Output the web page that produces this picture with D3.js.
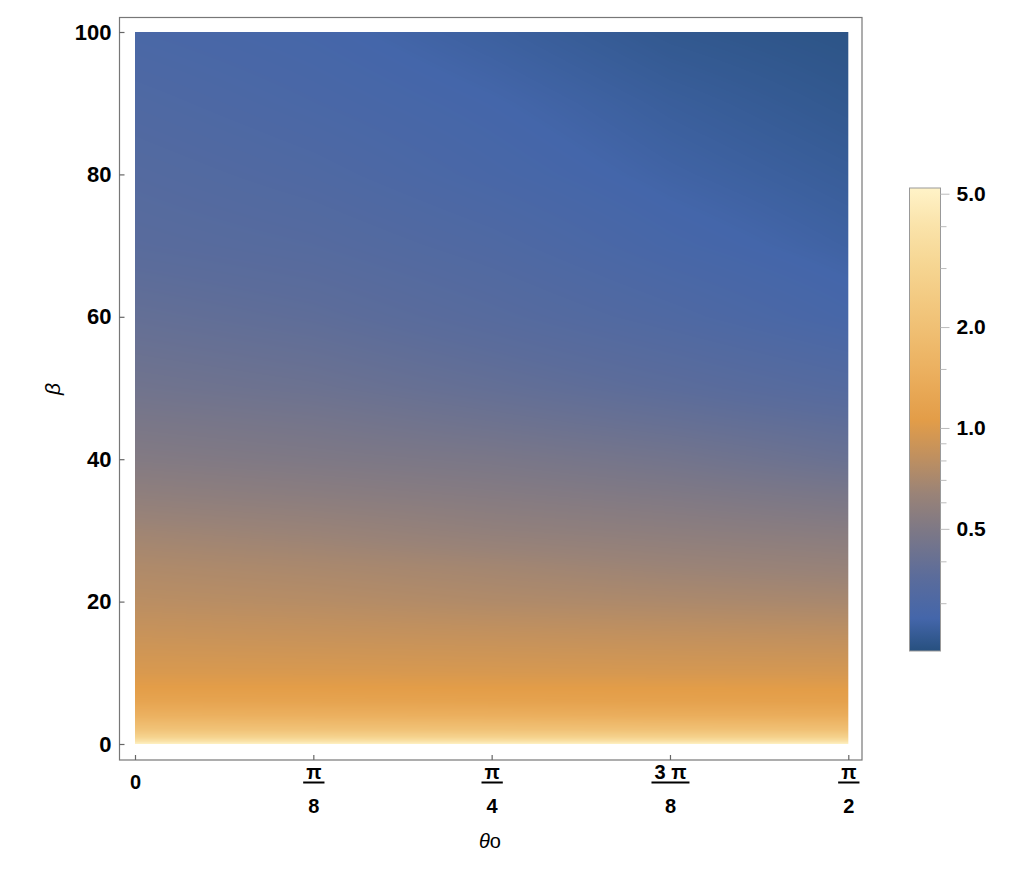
<!DOCTYPE html>
<html>
<head>
<meta charset="utf-8">
<script src="https://cdn.jsdelivr.net/npm/d3@7"></script>
<style>
    body { margin: 0; background: #fff; }
    text { font-family: "Liberation Sans", Arial, sans-serif; }
</style>
</head>
<body>
<div id="chart"></div>
<script>

// beta rows and theta columns of the sampled field
const betaValues = [0, 0.5, 1, 2, 4, 6, 8, 10, 15, 20, 25, 30, 35, 40, 45, 50, 60, 70, 80, 90, 100];
const thetaValues = [0, Math.PI / 8, Math.PI / 4, 3 * Math.PI / 8, Math.PI / 2];

// value along beta for each theta column
const valuesTheta0    = [5.0, 3.7, 2.9, 2.13, 1.5, 1.2, 1.06, 0.985, 0.88, 0.79, 0.73, 0.66, 0.58, 0.52, 0.48, 0.44, 0.39, 0.35, 0.33, 0.31, 0.29];
const valuesThetaPi8  = [5.0, 3.7, 2.9, 2.10, 1.48, 1.19, 1.06, 0.98, 0.865, 0.77, 0.705, 0.63, 0.555, 0.50, 0.46, 0.42, 0.37, 0.335, 0.31, 0.29, 0.275];
const valuesThetaPi4  = [5.0, 3.65, 2.85, 2.08, 1.46, 1.17, 1.05, 0.97, 0.85, 0.74, 0.675, 0.59, 0.53, 0.48, 0.43, 0.39, 0.34, 0.31, 0.285, 0.271, 0.255];
const valuesTheta3Pi8 = [5.0, 3.6, 2.8, 2.05, 1.42, 1.15, 1.05, 0.96, 0.835, 0.72, 0.64, 0.565, 0.505, 0.45, 0.40, 0.36, 0.31, 0.28, 0.263, 0.25, 0.235];
const valuesThetaPi2  = [5.0, 3.6, 2.8, 2.02, 1.40, 1.14, 1.04, 0.955, 0.82, 0.70, 0.615, 0.54, 0.475, 0.41, 0.37, 0.33, 0.28, 0.26, 0.247, 0.235, 0.225];
const columns = [valuesTheta0, valuesThetaPi8, valuesThetaPi4, valuesTheta3Pi8, valuesThetaPi2];

// ticks
const yTicks = [0, 20, 40, 60, 80, 100];
const xTickNumerators = ["0", "π", "π", "3 π", "π"];
const xTickDenominators = ["", "8", "4", "8", "2"];
const legendTicks = [0.5, 1, 2, 5];
const legendTickLabels = ["0.5", "1.0", "2.0", "5.0"];
const legendMinorTicks = [0.3, 0.4, 0.6, 0.7, 0.8, 0.9, 1.5, 3, 4];
const colorDomain = [0.216, 5.2];

// colour gradient
const gradientStops  = [0, 0.07, 0.16, 0.26, 0.34, 0.42, 0.50, 0.60, 0.70, 0.83, 0.92, 1];
const gradientColors = ["#27507f", "#4466aa", "#5b6c9b", "#7d7886", "#9a8377", "#c0905f",
                        "#e39d48", "#ebaf5e", "#f0c074", "#f6d591", "#fae3aa", "#fff3c8"];

const width = 1030, height = 870;
const frame = {left: 119.5, top: 17.5, right: 862, bottom: 760};

const xScale = d3.scaleLinear().domain([0, Math.PI / 2]).range([135, 848.3]);
const yScale = d3.scaleLinear().domain([0, 100]).range([744, 32]);
const tScale = d3.scaleLog().domain(colorDomain).range([0, 1]).clamp(true);
const gradient = d3.scaleLinear().domain(gradientStops).range(gradientColors)
    .interpolate(d3.interpolateRgb).clamp(true);

const rowIndex = d3.scaleLinear().domain(betaValues).range(d3.range(betaValues.length)).clamp(true);
const colIndex = d3.scaleLinear().domain(thetaValues).range(d3.range(thetaValues.length)).clamp(true);

function valueAt(theta, beta) {
    const r = rowIndex(beta), c = colIndex(theta);
    const r0 = Math.min(Math.floor(r), betaValues.length - 2);
    const c0 = Math.min(Math.floor(c), thetaValues.length - 2);
    const fr = r - r0, fc = c - c0;
    const lv = function (ci, ri) { return Math.log(columns[ci][ri]); };
    const a = lv(c0, r0) * (1 - fc) + lv(c0 + 1, r0) * fc;
    const b = lv(c0, r0 + 1) * (1 - fc) + lv(c0 + 1, r0 + 1) * fc;
    return Math.exp(a * (1 - fr) + b * fr);
}

const svg = d3.select("#chart")
    .append("svg")
    .attr("width", width)
    .attr("height", height);

/* density image */
const x0 = xScale.range()[0], x1 = xScale.range()[1];
const yTop = yScale.range()[1], yBottom = yScale.range()[0];
const imgW = Math.round(x1 - x0), imgH = Math.round(yBottom - yTop);

const lut = d3.range(1024).map(function (i) { return d3.rgb(gradient(i / 1023)); });

const canvas = document.createElement("canvas");
canvas.width = imgW;
canvas.height = imgH;
const ctx = canvas.getContext("2d");
const img = ctx.createImageData(imgW, imgH);
for (let py = 0; py < imgH; py++) {
    const beta = yScale.invert(yTop + (py + 0.5) * (yBottom - yTop) / imgH);
    for (let px = 0; px < imgW; px++) {
        const theta = xScale.invert(x0 + (px + 0.5) * (x1 - x0) / imgW);
        const c = lut[Math.round(tScale(valueAt(theta, beta)) * 1023)];
        const k = (py * imgW + px) * 4;
        img.data[k] = c.r;
        img.data[k + 1] = c.g;
        img.data[k + 2] = c.b;
        img.data[k + 3] = 255;
    }
}
ctx.putImageData(img, 0, 0);

svg.append("image")
    .attr("x", x0)
    .attr("y", yTop)
    .attr("width", x1 - x0)
    .attr("height", yBottom - yTop)
    .attr("preserveAspectRatio", "none")
    .attr("href", canvas.toDataURL());

/* frame */
svg.append("rect")
    .attr("x", frame.left)
    .attr("y", frame.top)
    .attr("width", frame.right - frame.left)
    .attr("height", frame.bottom - frame.top)
    .attr("fill", "none")
    .attr("stroke", "#777")
    .attr("stroke-width", 1.2);

/* y axis */
const yAxis = svg.append("g")
    .attr("transform", "translate(" + frame.left + ",0)")
    .call(d3.axisLeft(yScale)
        .tickValues(yTicks)
        .tickSizeInner(-5)
        .tickSizeOuter(0)
        .tickPadding(8));
yAxis.select(".domain").remove();
yAxis.selectAll(".tick line").attr("stroke", "#666").attr("stroke-width", 1.2);
yAxis.selectAll(".tick text")
    .attr("fill", "#000")
    .style("font-size", "22px")
    .style("font-weight", "bold");

/* x axis */
const xAxis = svg.append("g")
    .attr("transform", "translate(0," + frame.bottom + ")")
    .call(d3.axisBottom(xScale)
        .tickValues(thetaValues)
        .tickSizeInner(-5)
        .tickSizeOuter(0)
        .tickFormat(""));
xAxis.select(".domain").remove();
xAxis.selectAll(".tick line").attr("stroke", "#666").attr("stroke-width", 1.2);

xAxis.selectAll(".tick").each(function (d, i) {
    const g = d3.select(this);
    const num = g.append("text")
        .attr("y", xTickDenominators[i] ? 12 : 21.5)
        .attr("dy", "0.35em")
        .attr("text-anchor", "middle")
        .attr("fill", "#000")
        .style("font-size", "20px")
        .style("font-weight", "bold")
        .text(xTickNumerators[i]);
    if (xTickDenominators[i]) {
        const w = num.node().getComputedTextLength() + 6;
        g.append("line")
            .attr("x1", -w / 2)
            .attr("x2", w / 2)
            .attr("y1", 22.5)
            .attr("y2", 22.5)
            .attr("stroke", "#000")
            .attr("stroke-width", 2);
        g.append("text")
            .attr("y", 45.5)
            .attr("dy", "0.35em")
            .attr("text-anchor", "middle")
            .attr("fill", "#000")
            .style("font-size", "20px")
            .style("font-weight", "bold")
            .text(xTickDenominators[i]);
    }
});

/* axis titles */
const xTitle = svg.append("text")
    .attr("x", 490)
    .attr("y", 848)
    .attr("text-anchor", "middle")
    .style("font-size", "20px");
xTitle.append("tspan").style("font-style", "italic").text("θ");
xTitle.append("tspan").text("o");

svg.append("text")
    .attr("transform", "translate(60,389) rotate(-90)")
    .attr("text-anchor", "middle")
    .style("font-size", "21px")
    .style("font-style", "italic")
    .text("β");

/* legend */
const legend = {left: 909.5, right: 940.5, top: 188, bottom: 651};
const legendScale = d3.scaleLog().domain(colorDomain).range([legend.bottom, legend.top]);

const defs = svg.append("defs");
const lg = defs.append("linearGradient")
    .attr("id", "legend-gradient")
    .attr("x1", 0).attr("x2", 0)
    .attr("y1", 1).attr("y2", 0);
lg.selectAll("stop")
    .data(gradientStops)
    .enter()
    .append("stop")
    .attr("offset", function (d) { return d; })
    .attr("stop-color", function (d, i) { return gradientColors[i]; });

svg.append("rect")
    .attr("x", legend.left)
    .attr("y", legend.top)
    .attr("width", legend.right - legend.left)
    .attr("height", legend.bottom - legend.top)
    .attr("fill", "url(#legend-gradient)")
    .attr("stroke", "#999")
    .attr("stroke-width", 1);

const legendMinor = svg.append("g")
    .attr("transform", "translate(" + legend.right + ",0)")
    .call(d3.axisRight(legendScale)
        .tickValues(legendMinorTicks)
        .tickSizeInner(6)
        .tickSizeOuter(0)
        .tickFormat(""));
legendMinor.select(".domain").remove();
legendMinor.selectAll(".tick line").attr("stroke", "#bbb");

const legendAxis = svg.append("g")
    .attr("transform", "translate(" + legend.right + ",0)")
    .call(d3.axisRight(legendScale)
        .tickValues(legendTicks)
        .tickSizeInner(9)
        .tickSizeOuter(0)
        .tickPadding(7)
        .tickFormat(function (d, i) { return legendTickLabels[i]; }));
legendAxis.select(".domain").remove();
legendAxis.selectAll(".tick line").attr("stroke", "#bbb");
legendAxis.selectAll(".tick text")
    .attr("fill", "#000")
    .style("font-size", "21px")
    .style("font-weight", "bold");

</script>
</body>
</html>
